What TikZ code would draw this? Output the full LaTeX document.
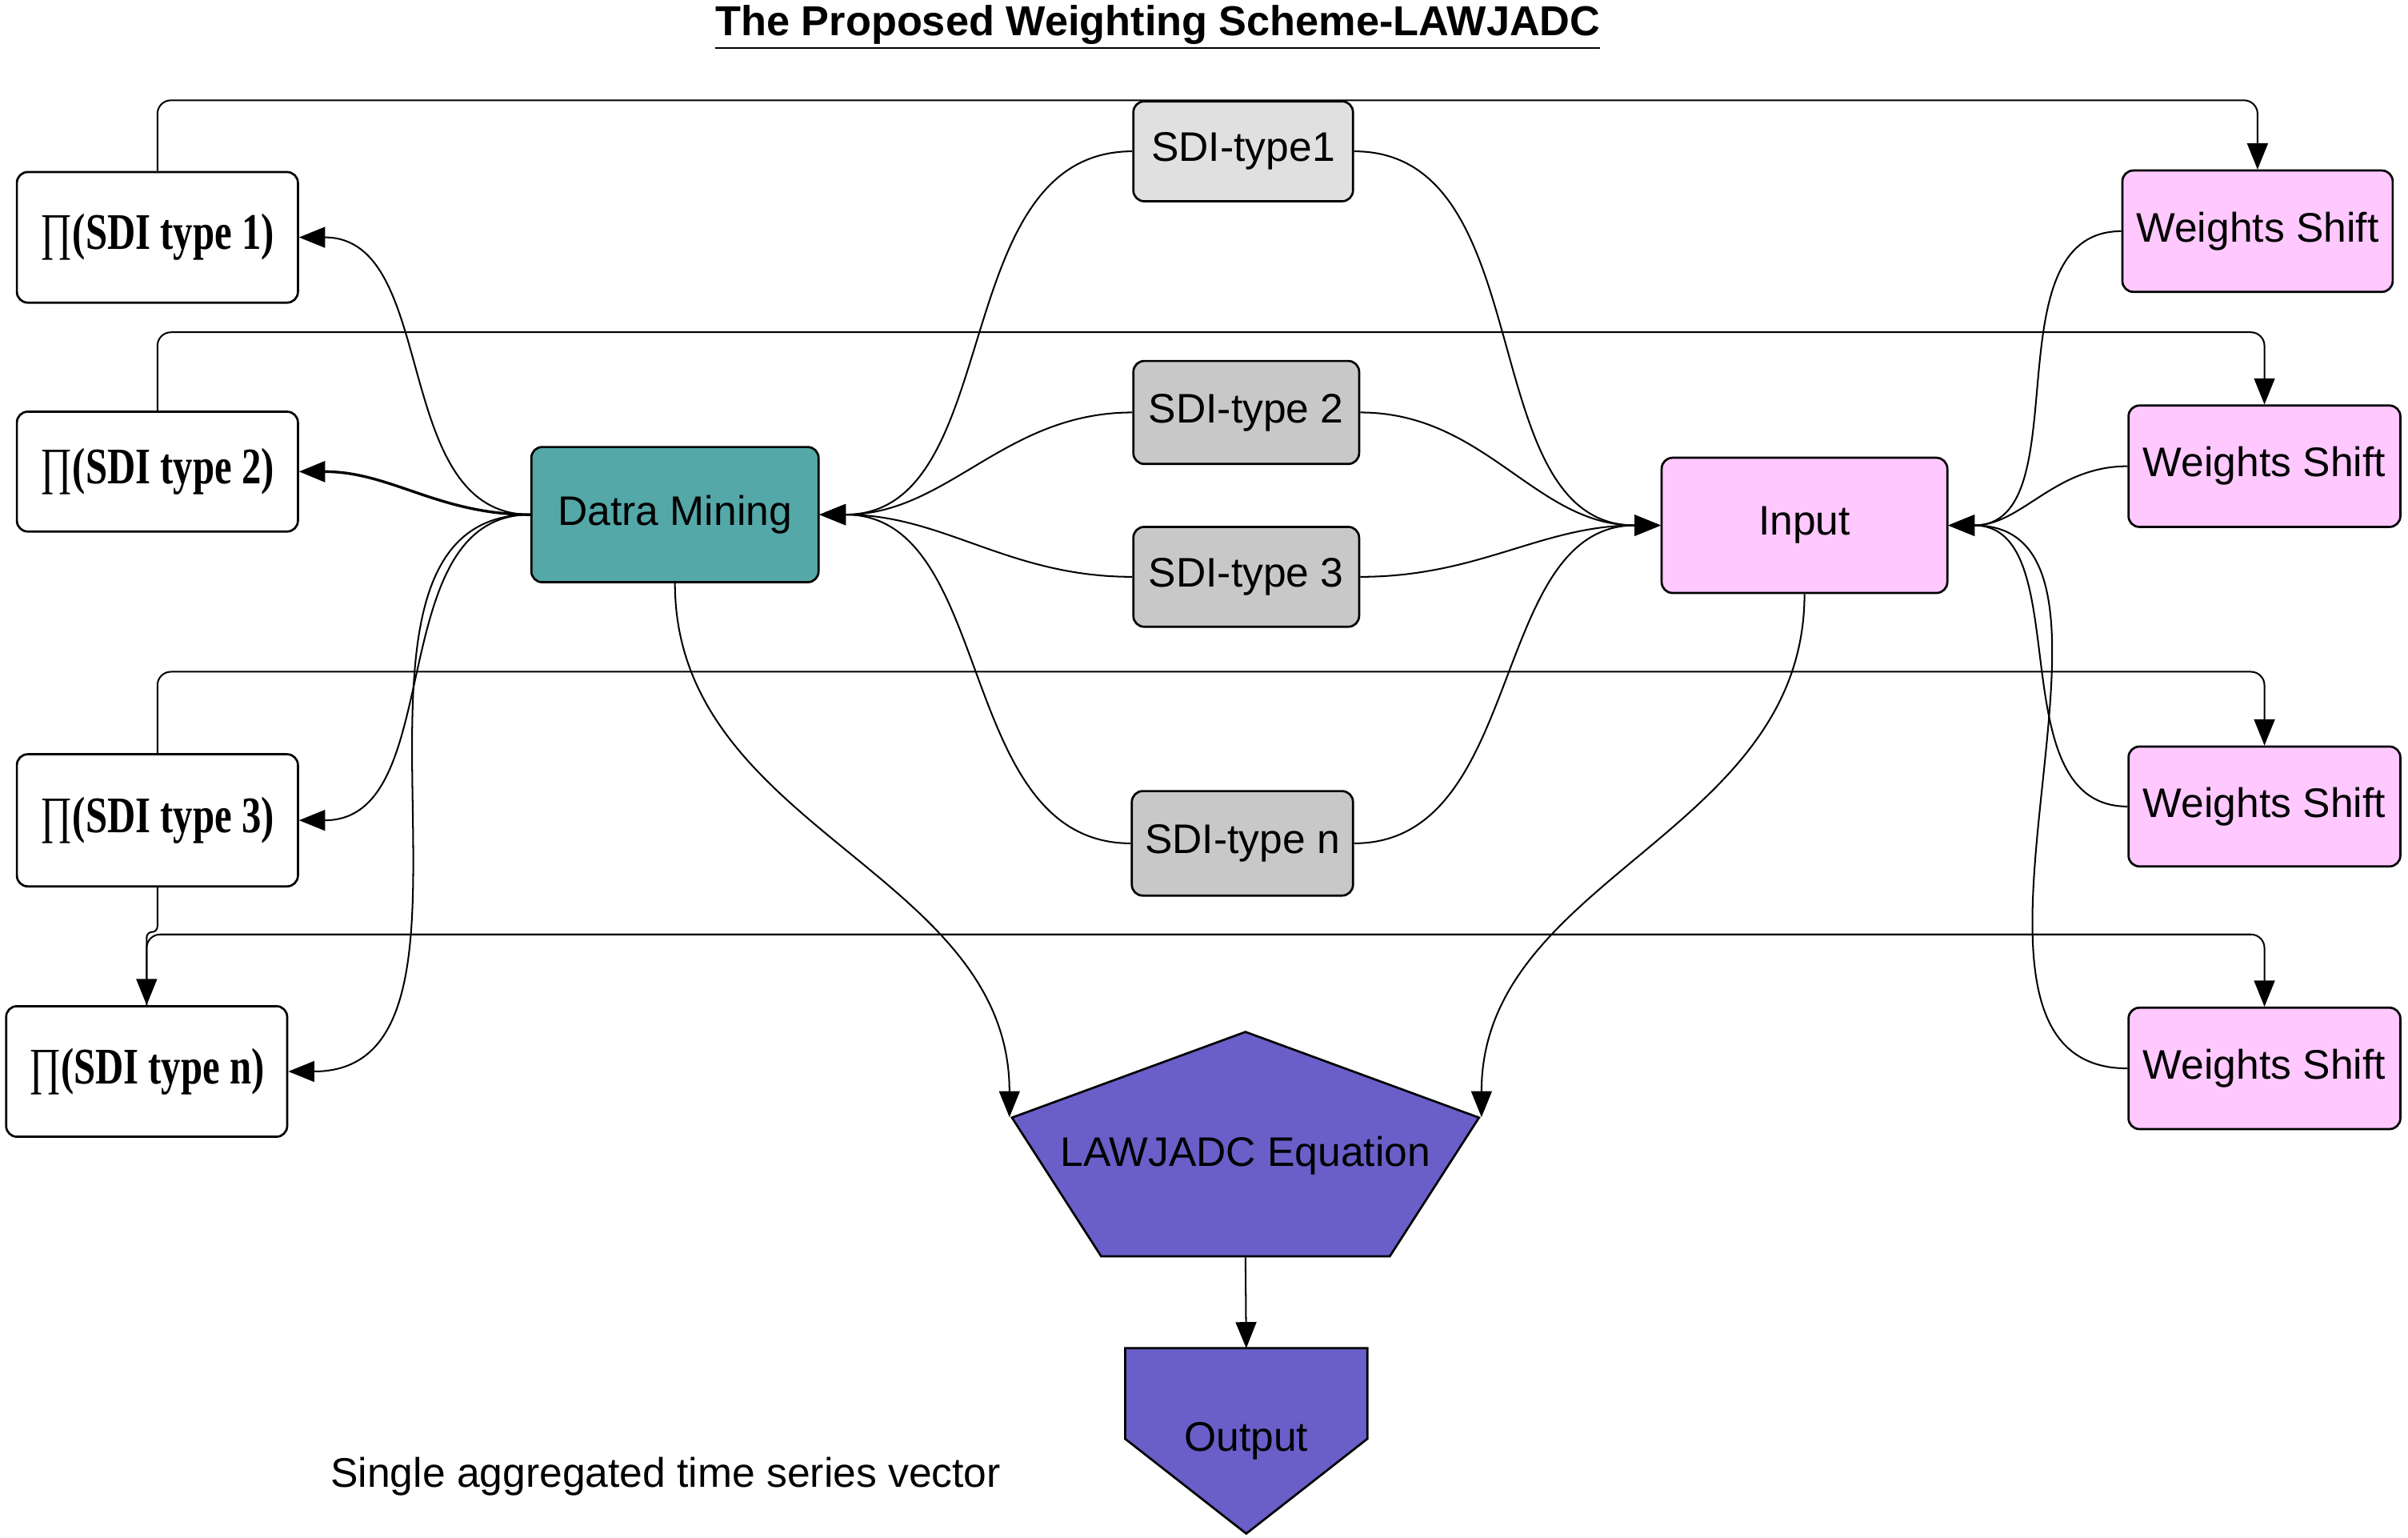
\documentclass[tikz,border=0pt]{standalone}
\usepackage{fontspec}
\setmainfont{Liberation Sans}
\newfontfamily\timesfam{Liberation Serif}
\usetikzlibrary{shapes,shapes.geometric,arrows.meta,positioning,calc,backgrounds}

\definecolor{dmteal}{RGB}{84,168,168}
\definecolor{inpink}{RGB}{255,200,255}
\definecolor{sdilight}{RGB}{224,224,224}
\definecolor{sdigray}{RGB}{200,200,200}
\definecolor{eqpurple}{RGB}{106,95,200}

\newcommand{\boxfont}{\fontsize{15.3}{18}\selectfont}
\newcommand{\prodlbl}[1]{\scalebox{0.76}[1]{\timesfam\fontsize{19}{22}\selectfont ∏\bfseries(SDI type #1)}}

\begin{document}
\begin{tikzpicture}[
    prodbox/.style={rectangle, draw, fill=white, rounded corners=4pt, line width=0.8pt,
                    minimum width=3.66cm, minimum height=1.70cm, inner sep=1pt},
    sdibox/.style={rectangle, draw, fill=sdigray, rounded corners=4pt, line width=0.8pt,
                   minimum width=2.94cm, minimum height=1.32cm, inner sep=1pt, font=\boxfont},
    wbox/.style={rectangle, draw, fill=inpink, rounded corners=4pt, line width=0.8pt,
                 minimum width=3.54cm, minimum height=1.58cm, inner sep=1pt, font=\boxfont},
    mainbox/.style={rectangle, draw, rounded corners=4pt, line width=0.8pt,
                    minimum width=3.74cm, minimum height=1.76cm, font=\boxfont},
    eqshape/.style={regular polygon, regular polygon sides=5, draw, fill=eqpurple,
                    line width=0.8pt, inner sep=0pt, minimum size=3.23cm,
                    xscale=1.98, transform shape},
    outbox/.style={rectangle, minimum width=3.14cm, minimum height=2.40cm,
                   inner sep=0pt, font=\boxfont},
    arrow/.style={->, >={Triangle[length=0.34cm,width=0.27cm]}, line width=0.6pt},
    wire/.style={arrow, rounded corners=5pt}
]
\useasboundingbox (0,0) rectangle (31.36,-20.02);

%% ── Title ────────────────────────────────────────────────────────
\node[font=\fontsize{15.5}{18}\selectfont\bfseries, anchor=base] (title) at (15.08,-0.46)
    {\underline{The Proposed Weighting Scheme-LAWJADC}};

%% ── Left column: products ────────────────────────────────────────
\node[prodbox] (p1) at (2.05,-3.09)  {\prodlbl{1}};
\node[prodbox, minimum height=1.56cm] (p2) at (2.05,-6.14) {\prodlbl{2}};
\node[prodbox, minimum height=1.72cm] (p3) at (2.05,-10.68) {\prodlbl{3}};
\node[prodbox] (pn) at (1.91,-13.95) {\prodlbl{n}};

%% ── Mining and SDI types ─────────────────────────────────────────
\node[mainbox, fill=dmteal] (dm) at (8.79,-6.70) {Datra Mining};
\node[sdibox, fill=sdilight, minimum width=2.86cm, minimum height=1.30cm] (s1) at (16.19,-1.97) {SDI-type1};
\node[sdibox, minimum height=1.34cm] (s2) at (16.23,-5.37) {SDI-type 2};
\node[sdibox, minimum height=1.30cm] (s3) at (16.23,-7.51) {SDI-type 3};
\node[sdibox, minimum width=2.88cm, minimum height=1.36cm] (sn) at (16.18,-10.98) {SDI-type n};

%% ── Input and weights ────────────────────────────────────────────
\node[mainbox, fill=inpink, minimum width=3.72cm] (inp) at (23.50,-6.84) {Input};
\node[wbox, minimum width=3.52cm] (w1) at (29.40,-3.01) {Weights Shift};
\node[wbox] (w2) at (29.49,-6.07)  {Weights Shift};
\node[wbox, minimum height=1.56cm] (w3) at (29.49,-10.50) {Weights Shift};
\node[wbox] (w4) at (29.49,-13.91) {Weights Shift};

%% ── Equation and output ──────────────────────────────────────────
\node[eqshape] (eq) at (16.22,-15.05) {};
\node[font=\boxfont] (eqlbl) at (eq.center) {LAWJADC Equation};
\node[outbox] (out) at (16.23,-18.76) {Output};
\begin{scope}[on background layer]
  \filldraw[fill=eqpurple, line width=0.8pt] (out.north west) -- (out.north east)
    -- ($(out.north east)+(0,-1.18)$) -- (out.south)
    -- ($(out.north west)+(0,-1.18)$) -- cycle;
\end{scope}

\node[font=\boxfont, anchor=base] (note) at (8.67,-19.36) {Single aggregated time series vector};

%% ── Arrows: mining to products ───────────────────────────────────
\draw[arrow] (dm.west) to[out=180,in=0] (p1.east);
\draw[arrow, line width=1pt] (dm.west) to[out=180,in=0] (p2.east);
\draw[arrow] (dm.west) to[out=180,in=0] (p3.east);
\draw[arrow] (dm.west) to[out=180,in=0] (pn.east);

%% ── Arrows: SDI types ────────────────────────────────────────────
\draw[arrow] (s1.west) to[out=180,in=0] (dm.east);
\draw[arrow] (s2.west) to[out=180,in=0] (dm.east);
\draw[arrow] (s3.west) to[out=180,in=0] (dm.east);
\draw[arrow] (sn.west) to[out=180,in=0] (dm.east);
\draw[arrow] (s1.east) to[out=0,in=180] (inp.west);
\draw[arrow] (s2.east) to[out=0,in=180] (inp.west);
\draw[arrow] (s3.east) to[out=0,in=180] (inp.west);
\draw[arrow] (sn.east) to[out=0,in=180] (inp.west);

%% ── Arrows: weights to input ─────────────────────────────────────
\draw[arrow] (w1.west) to[out=180,in=0] (inp.east);
\draw[arrow] (w2.west) to[out=180,in=0] (inp.east);
\draw[arrow] (w3.west) to[out=180,in=0] (inp.east);
\draw[arrow] (w4.west) to[out=180,in=0] (inp.east);

%% ── Wires: products to weights ───────────────────────────────────
\draw[wire] (p1.north) -- ++(0,0.92) -| (w1.north);
\draw[wire] (p2.north) -- ++(0,1.02) -| (w2.north);
\draw[wire] (p3.north) -- ++(0,1.06) -| (w3.north);
\draw[wire, rounded corners=2pt] (p3.south) -- ++(0,-0.58) -| (pn.north);
\draw[wire] (pn.north) -- ++(0,0.92) -| (w4.north);

%% ── Arrows: into the equation ────────────────────────────────────
\draw[arrow] (dm.south)  to[out=-90,in=90] (eq.corner 2);
\draw[arrow] (inp.south) to[out=-90,in=90] (eq.corner 5);
\draw[arrow] (eq.south) -- (out.north);

\end{tikzpicture}
\end{document}
